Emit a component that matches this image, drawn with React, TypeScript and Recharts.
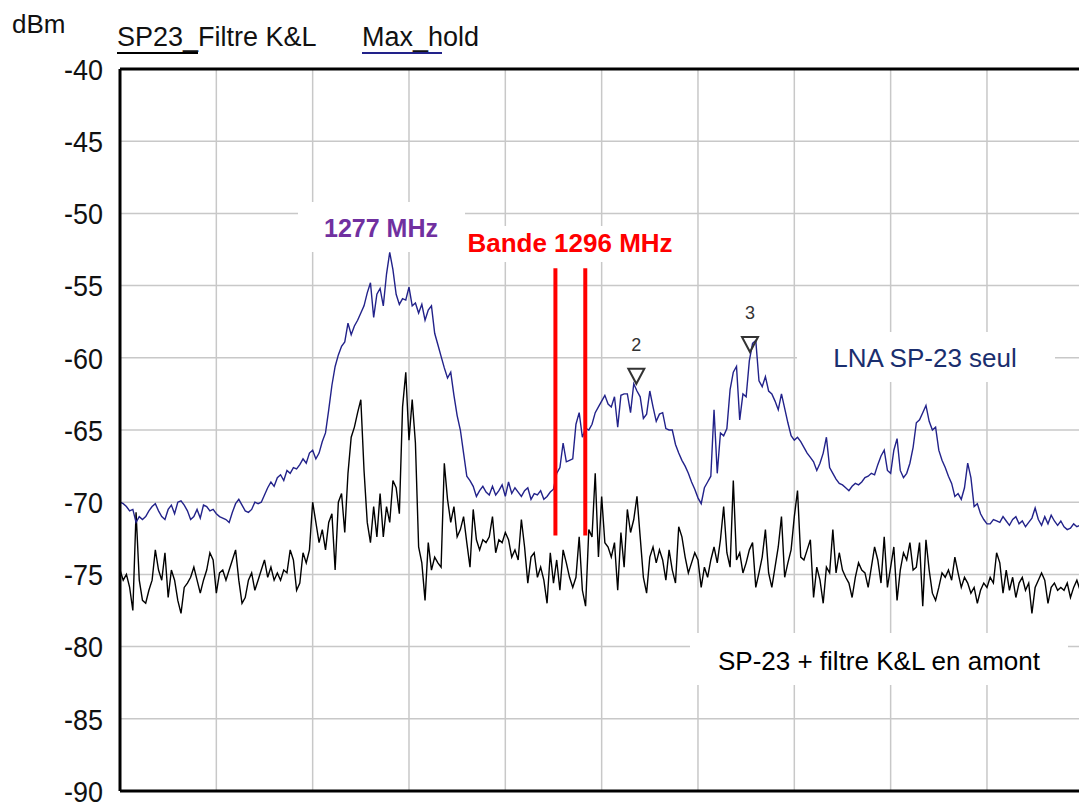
import React from "react";
import {
  LineChart,
  Line,
  XAxis,
  YAxis,
  CartesianGrid,
  ReferenceLine,
  ReferenceDot,
} from "recharts";

const FONT = '"Liberation Sans", Arial, sans-serif';

// frequency axis, MHz (span 100 MHz, 301 points)
const FREQ_START = 1250;
const FREQ_STEP = 1 / 3;
const freqTicks = [1250, 1260, 1270, 1280, 1290, 1300, 1310, 1320, 1330, 1340, 1350];
const levelTicks = [-40, -45, -50, -55, -60, -65, -70, -75, -80, -85, -90];

// "Max_hold" trace : LNA SP-23 seul (dBm)
const maxHold = [
  -70.0, -70.1, -70.3, -70.6, -70.5, -71.4, -71.0, -71.2, -71.0, -70.6,
  -70.3, -70.1, -70.6, -71.0, -71.2, -70.5, -70.2, -70.8, -70.0, -69.9,
  -70.2, -70.6, -71.2, -71.0, -70.5, -71.1, -70.2, -70.3, -70.6, -70.5,
  -70.8, -71.0, -71.1, -71.2, -71.4, -70.7, -70.1, -69.8, -70.2, -70.6,
  -70.7, -70.5, -70.0, -70.1, -70.0, -69.5, -69.0, -68.6, -68.9, -68.3,
  -68.1, -68.5, -67.8, -68.0, -67.6, -67.7, -67.4, -67.0, -67.3, -66.6,
  -66.4, -67.0, -66.6, -65.8, -65.2, -63.6, -61.9, -60.6, -59.8, -59.2,
  -58.9, -57.6, -58.4, -57.8, -57.4, -56.9, -56.4, -55.5, -54.8, -57.2,
  -55.6, -55.2, -56.4, -54.2, -52.7, -53.9, -55.6, -56.3, -55.9, -56.0,
  -55.1, -56.4, -56.2, -56.9, -56.3, -57.4, -56.7, -56.4, -58.3, -59.1,
  -59.9, -60.7, -61.4, -61.0, -62.6, -64.0, -65.0, -66.6, -68.2, -68.5,
  -68.9, -69.6, -69.2, -68.9, -69.3, -69.5, -68.9, -69.5, -69.2, -68.8,
  -69.6, -68.6, -69.4, -69.0, -69.3, -69.6, -69.2, -69.0, -69.8, -69.4,
  -69.5, -69.2, -69.8, -69.6, -69.3, -69.1, -68.0, -67.6, -65.9, -67.2,
  -67.1, -67.0, -64.6, -63.8, -65.5, -64.9, -65.0, -64.6, -63.8, -63.4,
  -63.0, -62.6, -63.2, -63.4, -62.7, -64.8, -62.6, -62.5, -62.5, -63.8,
  -61.8, -62.3, -62.7, -64.2, -63.9, -62.3, -63.4, -64.4, -63.9, -63.8,
  -64.9, -65.0, -65.0, -66.0, -66.6, -67.1, -67.5, -68.0, -68.6, -69.1,
  -69.7, -70.1, -69.0, -68.6, -68.2, -63.6, -68.0, -65.2, -65.4, -64.9,
  -62.2, -61.0, -60.6, -64.3, -62.5, -62.7, -60.2, -59.0, -58.8, -61.6,
  -62.0, -61.3, -62.3, -62.5, -63.0, -63.6, -62.5, -63.5, -64.5, -65.4,
  -65.7, -65.5, -65.8, -66.2, -66.6, -66.9, -67.2, -67.8, -67.3, -66.6,
  -65.5, -67.6, -68.0, -68.4, -68.7, -68.8, -69.0, -69.2, -68.9, -68.7,
  -68.8, -68.6, -68.3, -68.2, -68.0, -68.1, -67.4, -66.8, -66.4, -67.8,
  -68.0, -66.4, -65.6, -67.8, -68.3, -68.0, -67.3, -66.2, -64.5, -64.3,
  -63.8, -63.3, -64.4, -65.0, -64.8, -66.4, -67.1, -67.6, -68.2, -68.7,
  -69.6, -69.4, -69.8, -69.0, -67.3, -68.3, -70.3, -70.1, -70.8, -71.2,
  -71.5, -71.5, -71.2, -71.3, -71.4, -71.0, -71.3, -71.6, -71.2, -71.0,
  -71.5, -71.3, -71.7, -71.4, -71.1, -70.4, -71.2, -71.6, -71.0, -71.5,
  -70.9, -71.3, -71.6, -71.3, -71.7, -71.9, -71.8, -71.5, -71.7, -71.6,
  -71.5,
];

// "SP23_Filtre K&L" trace : SP-23 + filtre K&L en amont (dBm)
const filtre = [
  -74.7, -75.4, -75.0, -75.9, -77.5, -70.7, -75.4, -76.8, -77.0, -76.1,
  -75.4, -73.3, -74.7, -75.4, -73.5, -76.6, -74.7, -75.4, -76.8, -77.7,
  -75.9, -75.6, -75.2, -74.5, -75.4, -76.3, -75.4, -74.7, -73.5, -74.0,
  -76.3, -74.9, -74.7, -75.4, -74.7, -74.0, -73.3, -75.4, -77.0, -76.6,
  -75.4, -74.9, -76.1, -75.4, -74.7, -74.0, -75.2, -74.5, -75.4, -74.9,
  -75.4, -74.7, -74.9, -73.3, -74.0, -76.1, -75.6, -73.5, -74.2, -73.3,
  -70.0, -71.4, -72.8, -71.9, -73.3, -71.4, -70.8, -74.7, -70.0, -69.4,
  -72.1, -68.0, -65.5, -64.8, -63.8, -62.9, -67.8, -71.4, -72.8, -70.3,
  -72.4, -69.4, -72.4, -70.3, -71.4, -68.5, -69.0, -70.8, -63.4, -61.0,
  -65.7, -62.9, -65.9, -73.1, -74.2, -76.8, -72.8, -74.7, -73.8, -74.2,
  -74.5, -67.3, -69.8, -71.4, -70.3, -72.4, -71.9, -71.0, -72.8, -74.5,
  -70.5, -72.6, -73.3, -72.6, -72.8, -72.4, -71.0, -73.5, -72.6, -72.8,
  -72.1, -72.6, -73.8, -73.3, -74.0, -71.2, -73.1, -75.6, -73.8, -73.5,
  -75.2, -74.5, -75.4, -77.0, -73.5, -75.6, -74.0, -76.1, -73.3, -74.2,
  -75.2, -75.9, -75.2, -72.4, -76.1, -77.2, -71.9, -72.4, -68.0, -73.8,
  -69.6, -72.8, -73.1, -73.8, -72.8, -76.1, -72.1, -74.5, -70.5, -72.1,
  -71.2, -69.6, -72.4, -75.2, -76.3, -73.8, -73.1, -74.2, -73.3, -74.0,
  -75.4, -73.3, -74.7, -75.6, -71.7, -72.4, -73.8, -74.9, -74.2, -73.5,
  -74.0, -75.9, -74.5, -75.2, -74.0, -73.1, -74.2, -72.6, -70.3, -73.5,
  -74.5, -68.5, -74.0, -73.5, -74.9, -74.2, -73.3, -72.8, -75.9, -74.9,
  -73.8, -71.9, -74.9, -75.9, -74.5, -73.1, -71.0, -75.2, -74.2, -73.3,
  -71.0, -69.2, -73.8, -74.0, -73.3, -72.6, -76.6, -74.5, -75.4, -77.0,
  -74.5, -74.9, -71.9, -74.9, -73.5, -74.7, -75.2, -75.6, -76.6, -75.2,
  -74.2, -74.7, -74.9, -75.9, -74.5, -73.1, -74.0, -75.6, -72.4, -75.9,
  -74.5, -73.1, -76.8, -74.7, -73.5, -74.0, -72.8, -74.7, -74.5, -72.8,
  -77.2, -72.6, -74.7, -76.3, -76.8, -75.9, -74.9, -75.2, -74.7, -75.4,
  -73.8, -74.9, -75.9, -75.2, -75.6, -76.3, -75.9, -77.0, -76.1, -75.6,
  -75.9, -75.2, -75.6, -73.5, -74.2, -76.3, -74.7, -76.1, -75.2, -76.6,
  -75.6, -75.2, -76.1, -75.6, -77.7, -75.9, -75.4, -74.9, -75.4, -77.0,
  -75.9, -75.6, -76.1, -75.9, -76.1, -75.6, -76.6, -75.9, -75.4, -76.1,
  -75.6,
];

// band 1296 MHz markers (red bars)
const bandEdges = [1295.2, 1298.3];
const bandLevels = [-53.8, -72.3];

// analyzer markers 2 and 3
const markerIds = ["2", "3"];
const markerFreqs = [1303.6, 1315.4];
const markerLevels = [-61.8, -59.6];

const data = maxHold.map((v, i) => ({
  freq: Number((FREQ_START + i * FREQ_STEP).toFixed(3)),
  maxHold: v,
  filtre: filtre[i],
}));

const BLUE = "#22228a";

// y tick labels: the scan is a bit stretched vertically
const LevelTick = (props: any) => {
  const { x, y, payload } = props;
  return (
    <text
      transform={`translate(${x},${y}) scale(1,1.12)`}
      textAnchor="end"
      dy="0.36em"
      fontSize={27}
      fill="#111"
      fontFamily={FONT}
    >
      {payload.value}
    </text>
  );
};

const MarkerShape = (props: any) => {
  const { cx, cy, id } = props;
  return (
    <g>
      <polygon
        points={`${cx - 8},${cy - 15} ${cx + 8},${cy - 15} ${cx},${cy}`}
        fill="none"
        stroke="#333"
        strokeWidth={2}
      />
      <text
        x={cx}
        y={cy - 33}
        textAnchor="middle"
        fontSize={18}
        fill="#333"
        fontFamily={FONT}
      >
        {id}
      </text>
    </g>
  );
};

export default function App() {
  return (
    <div
      style={{
        position: "absolute",
        left: 0,
        top: 0,
        width: 1079,
        height: 803,
        overflow: "hidden",
        background: "#fff",
      }}
    >
      <LineChart
        width={1100}
        height={803}
        data={data}
        margin={{ top: 69, right: 16.7, bottom: 0, left: 0 }}
      >
        <CartesianGrid stroke="#c8c8c8" strokeWidth={1.5} />
        <XAxis
          dataKey="freq"
          type="number"
          domain={[1250, 1350]}
          ticks={freqTicks}
          interval={0}
          tick={() => <g />}
          tickLine={false}
          height={12}
          axisLine={{ stroke: "#000", strokeWidth: 3 }}
        />
        <YAxis
          type="number"
          domain={[-90, -40]}
          ticks={levelTicks}
          interval={0}
          width={120}
          tickSize={0}
          tickMargin={17}
          tickLine={false}
          axisLine={{ stroke: "#000", strokeWidth: 3 }}
          tick={<LevelTick />}
        />
        <ReferenceLine y={-40} stroke="#000" strokeWidth={3} />
        <Line
          type="linear"
          dataKey="filtre"
          stroke="#000"
          strokeWidth={1.4}
          dot={false}
          isAnimationActive={false}
        />
        <Line
          type="linear"
          dataKey="maxHold"
          stroke={BLUE}
          strokeWidth={1.4}
          dot={false}
          isAnimationActive={false}
        />
        {bandEdges.map((f) => (
          <ReferenceLine
            key={f}
            segment={[
              { x: f, y: bandLevels[0] },
              { x: f, y: bandLevels[1] },
            ]}
            stroke="#ff0000"
            strokeWidth={4}
          />
        ))}
        {markerIds.map((id, i) => (
          <ReferenceDot
            key={id}
            x={markerFreqs[i]}
            y={markerLevels[i]}
            shape={(p: any) => <MarkerShape {...p} id={id} />}
          />
        ))}
      </LineChart>

      <svg
        width={1079}
        height={803}
        style={{ position: "absolute", left: 0, top: 0, pointerEvents: "none" }}
        fontFamily={FONT}
      >
        <text x={12} y={33} fontSize={26} fill="#111">
          dBm
        </text>
        <text x={117} y={46} fontSize={27} fill="#111">
          SP23_Filtre K&amp;L
        </text>
        <line x1={117} x2={198} y1={53} y2={53} stroke="#000" strokeWidth={2} />
        <text x={362} y={46} fontSize={27} fill="#111">
          Max_hold
        </text>
        <line x1={362} x2={442} y1={53} y2={53} stroke={BLUE} strokeWidth={2} />

        <rect x={298} y={202} width={167} height={50} fill="#fff" />
        <text x={381} y={237} textAnchor="middle" fontSize={25} fontWeight="bold" fill="#7030a0">
          1277 MHz
        </text>

        <rect x={458} y={226} width={228} height={36} fill="#fff" />
        <text x={570} y={252} textAnchor="middle" fontSize={26} fontWeight="bold" fill="#ff0000">
          Bande 1296 MHz
        </text>

        <rect x={797} y={332} width={258} height={50} fill="#fff" />
        <text x={925} y={367} textAnchor="middle" fontSize={26} fill="#1a2e6e">
          LNA SP-23 seul
        </text>

        <rect x={690} y={633} width={378} height={52} fill="#fff" />
        <text x={879} y={670} textAnchor="middle" fontSize={26} fill="#000">
          SP-23 + filtre K&amp;L en amont
        </text>
      </svg>
    </div>
  );
}
